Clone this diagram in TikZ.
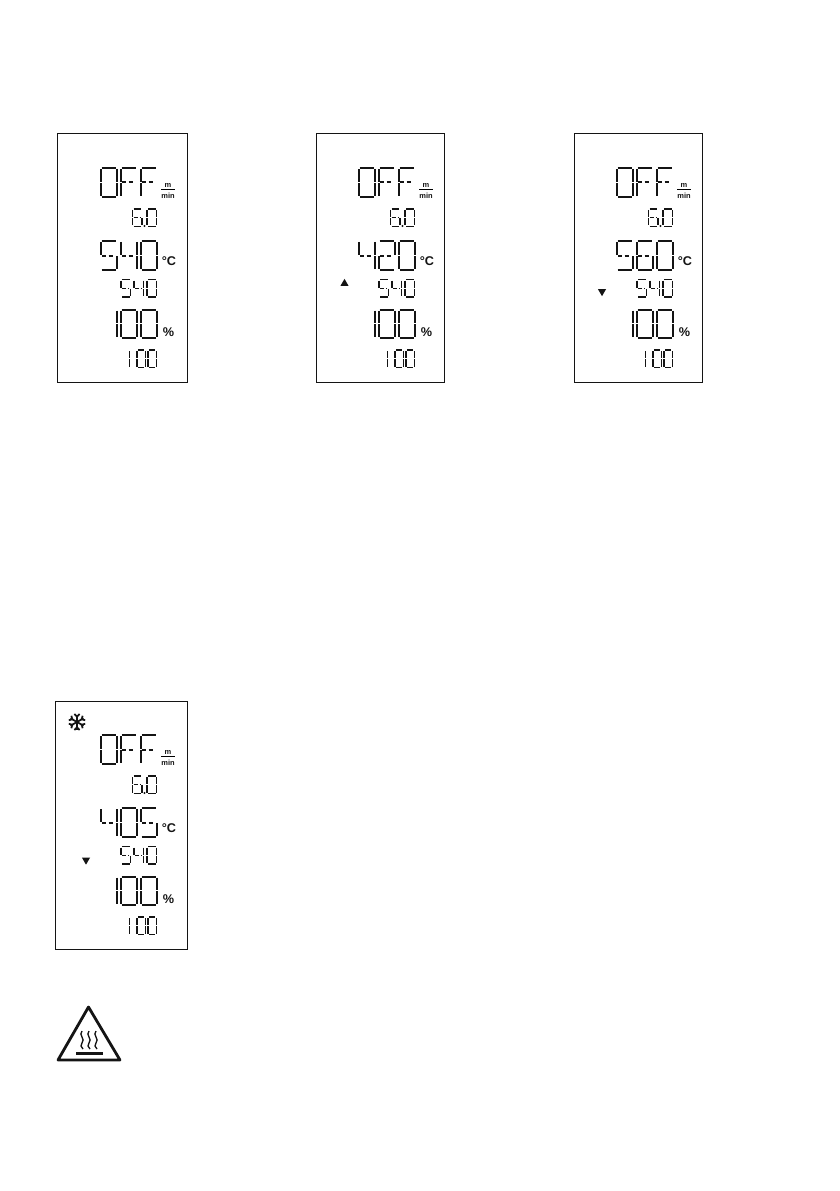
\documentclass[tikz,border=0pt]{standalone}
\usepackage{fontspec}
\setsansfont{Liberation Sans}
\usetikzlibrary{shapes.geometric}
\definecolor{lcdblack}{RGB}{20,20,20}
% digit table for the segment rows
\expandafter\def\csname dig0\endcsname{a,b,c,d,e,f}
\expandafter\def\csname dig1\endcsname{b,c}
\expandafter\def\csname dig2\endcsname{a,b,g,e,d}
\expandafter\def\csname dig4\endcsname{f,g,b,c}
\expandafter\def\csname dig5\endcsname{a,f,g,c,d}
\expandafter\def\csname dig6\endcsname{a,f,g,c,d,e}
\expandafter\def\csname digF\endcsname{a,f,e,g}
% one segment, \lw and \lh are the digit size
\newcommand{\sega}{\draw[seg] (1,0) -- (\lw-1,0);}
\newcommand{\segb}{\draw[seg] (\lw,1) -- (\lw,\lh/2-0.6);}
\newcommand{\segc}{\draw[seg] (\lw,\lh/2+0.6) -- (\lw,\lh-1);}
\newcommand{\segd}{\draw[seg] (1,\lh) -- (\lw-1,\lh);}
\newcommand{\sege}{\draw[seg] (0,\lh/2+0.6) -- (0,\lh-1);}
\newcommand{\segf}{\draw[seg] (0,1) -- (0,\lh/2-0.6);}
\newcommand{\segg}{\draw[seg,dash pattern=on 3pt off 1.6pt] (\lw*0.12,\lh/2) -- (\lw-\lw*0.12,\lh/2);}
% \lcdrow{x}{y}{width}{height}{pitch}{style}{digits}
\newcommand{\lcdrow}[7]{%
  \def\lw{#3}\def\lh{#4}%
  \begin{scope}[#6]
  \foreach \c [count=\i from 0] in {#7}{%
    \begin{scope}[shift={(#1+\i*#5,#2)}]
      \edef\seglist{\csname dig\c\endcsname}
      \foreach \s in \seglist {\csname seg\s\endcsname}
    \end{scope}}
  \end{scope}}
% \lcdpanel{x}{y}{name}{width of box}{box left}{big temperature}
\newcommand{\lcdpanel}[6]{%
  \begin{scope}[shift={(#1,#2)}]
  \node[panel,minimum width=#4*0.75pt] (#3) at (#5+#4/2,258) {};
  %% -- speed
  \lcdrow{100.5}{168}{16}{29}{20}{bigseg}{0,F,F}
  \node[unitsm] (#3m) at (168,185) {m};
  \draw[semithick] (161,189.5) -- (175,189.5);
  \node[unitsm] (#3min) at (168,196) {min};
  \lcdrow{132.5}{209}{9.5}{17.5}{14.5}{smallseg}{6,0}
  \fill[lcdblack] (144.5,226) circle (1.1);
  %% -- temperature
  \lcdrow{100.5}{241}{16}{29}{20}{bigseg}{#6}
  \node[unit] (#3deg) at (169,261.5) {°C};
  \lcdrow{121}{279.5}{9.5}{17.5}{13}{smallseg}{5,4,0}
  %% -- output
  \lcdrow{100.5}{309.5}{16}{28.5}{20}{bigseg}{1,0,0}
  \node[unit] (#3pct) at (168.5,332) {\%};
  \lcdrow{120}{350}{9.5}{17.5}{10.5}{smallseg}{1}
  \lcdrow{137}{350}{8.4}{17.5}{11}{smallseg}{0,0}
  \end{scope}}
\begin{document}
\begin{tikzpicture}[
  x=0.75pt,y=-0.75pt,
  panel/.style ={draw=lcdblack,line width=0.75pt,fill=none,minimum height=186pt,inner sep=0pt},
  seg/.style   ={draw=lcdblack,line cap=butt},
  bigseg/.style ={line width=1.5pt},
  smallseg/.style={line width=1.05pt},
  unit/.style  ={font=\sffamily\bfseries\fontsize{9.5}{9.5}\selectfont,inner sep=0pt,text=lcdblack},
  unitsm/.style={font=\sffamily\bfseries\fontsize{5.6}{5.6}\selectfont,inner sep=0pt,text=lcdblack},
  mark up/.style={regular polygon,regular polygon sides=3,fill=lcdblack,inner sep=0pt,minimum size=7pt},
  mark down/.style={mark up,shape border rotate=180},
]
\useasboundingbox (0,0) rectangle (839,1191);

%% -- Row 1: three panels
\lcdpanel{0}{0}{panelA}{130}{57}{5,4,0}
\lcdpanel{258}{0}{panelB}{128}{58}{4,2,0}
\lcdpanel{516}{0}{panelC}{128.5}{58}{5,6,0}
\node[mark up]   (riseB) at (344.5,283.5) {};
\node[mark down] (fallC) at (602,291.5) {};

%% -- Row 2: cooling panel
\lcdpanel{0}{567}{panelD}{132}{55}{4,0,5}
\node[mark down] (fallD) at (86,860) {};
\begin{scope}[shift={(77,722)}]
  \foreach \a in {30,90,150,210,270,330}{
    \draw[lcdblack,line width=1.3pt,rotate=\a] (0,0) -- (7.5,0);
    \draw[lcdblack,line width=1.3pt,rotate=\a] (8,-2.6) -- (5.4,0) -- (8,2.6);
  }
\end{scope}

%% -- Warning sign
\draw[draw=lcdblack,line width=2.1pt,line join=round] (88.5,1007) -- (120,1060) -- (58,1060) -- cycle;
\foreach \x in {82,89,96}{
  \draw[lcdblack,line width=1pt] (\x,1031) .. controls (\x-4,1035) and (\x+4,1039) .. (\x,1043)
    .. controls (\x-2,1045) and (\x-1,1047) .. (\x+1,1049);
}
\draw[lcdblack,line width=1.7pt] (76,1053.5) -- (103,1053.5);
\end{tikzpicture}
\end{document}
